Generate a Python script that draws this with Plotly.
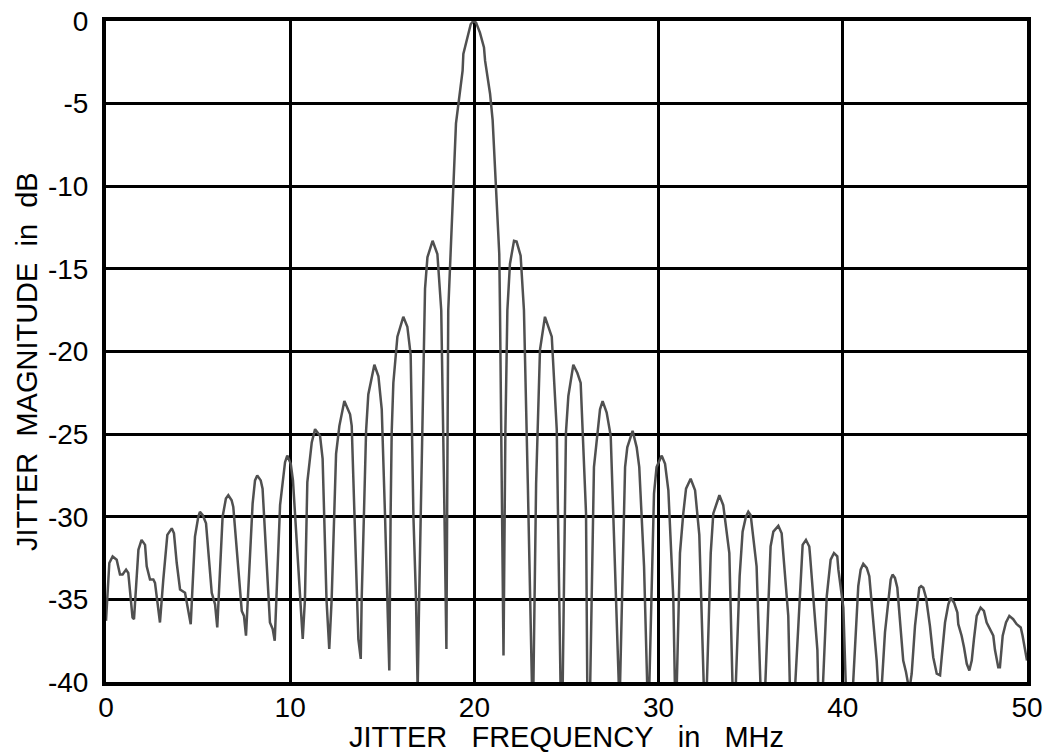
import plotly.graph_objects as go

# Jitter frequency (MHz) and magnitude (dB), read lobe by lobe from the reference
freq_mhz = [
    0.0, 0.18, 0.36, 0.58, 0.76, 0.9, 1.09, 1.21, 1.44, 1.52,
    1.76, 1.93, 2.12, 2.21, 2.39, 2.57, 2.66, 2.93,
    3.11, 3.33, 3.57, 3.69, 3.84, 4.02, 4.29, 4.6,
    4.83, 5.01, 5.1, 5.25, 5.43, 5.74, 5.92, 6.04,
    6.33, 6.51, 6.64, 6.82, 6.91, 7.37, 7.49, 7.6,
    7.96, 8.09, 8.21, 8.4, 8.5, 8.9, 9.05, 9.16,
    9.45, 9.59, 9.72, 9.84, 10.03, 10.15, 10.53, 10.68,
    10.8, 10.93, 11.17, 11.35, 11.62, 11.76, 11.97, 12.12,
    12.25, 12.49, 12.67, 12.94, 13.25, 13.34, 13.52, 13.7, 13.83,
    13.88, 14.0, 14.12, 14.24, 14.57, 14.79, 14.97, 15.15, 15.27, 15.38,
    15.45, 15.51, 15.6, 15.74, 15.82, 16.14, 16.36, 16.54, 16.69, 16.83, 16.92,
    17.0, 17.15, 17.32, 17.45, 17.73, 17.99, 18.2, 18.35, 18.48,
    18.58, 19.0, 19.36, 19.4, 19.8, 19.94, 20.09, 20.3, 20.52, 20.58, 20.85, 20.99, 21.35, 21.39, 21.58,
    21.68, 21.79, 21.93, 22.15, 22.29, 22.51, 22.69, 22.9, 23.13,
    23.2, 23.35, 23.56, 23.83, 24.2, 24.25, 24.47, 24.68,
    24.79, 24.97, 25.1, 25.37, 25.59, 25.77, 25.82, 26.06, 26.13,
    26.28, 26.49, 26.73, 26.82, 26.96, 27.18, 27.4, 27.58, 27.85,
    27.9, 28.18, 28.3, 28.59, 28.81, 28.95, 29.21, 29.39,
    29.49, 29.75, 29.89, 30.17, 30.35, 30.53, 30.8, 30.89,
    30.98, 31.16, 31.34, 31.49, 31.74, 31.98, 32.21, 32.46,
    32.61, 32.83, 32.97, 33.3, 33.51, 33.84, 34.02,
    34.18, 34.4, 34.56, 34.74, 34.87, 35.0, 35.32, 35.54,
    35.78, 36.08, 36.23, 36.5, 36.68, 37.04, 37.13,
    37.4, 37.77, 37.82, 38.0, 38.18, 38.22, 38.62, 38.67,
    38.91, 39.13, 39.34, 39.52, 39.7, 39.76, 40.03, 40.17,
    40.54, 40.84, 40.97, 41.11, 41.3, 41.44, 41.8, 41.84, 41.93,
    42.1, 42.29, 42.52, 42.6, 42.7, 42.83, 42.96, 43.28, 43.43, 43.61,
    43.74, 43.92, 44.15, 44.25, 44.37, 44.52, 44.73, 44.91, 45.1, 45.28,
    45.37, 45.55, 45.73, 45.86, 46.04, 46.22, 46.27, 46.45, 46.58, 46.73, 46.87,
    47.0, 47.12, 47.27, 47.48, 47.66, 47.81, 47.95, 48.17, 48.26, 48.44, 48.53,
    48.68, 48.86, 49.04, 49.25, 49.44, 49.66, 49.76, 50.0,
]

magnitude_db = [
    -36.3, -32.8, -32.4, -32.6, -33.5, -33.5, -33.2, -33.4, -36.1, -36.2,
    -32.0, -31.4, -31.7, -33.0, -33.8, -33.8, -34.0, -36.4,
    -33.8, -31.1, -30.7, -31.0, -32.8, -34.4, -34.6, -36.5,
    -31.2, -30.0, -29.7, -29.9, -30.4, -34.6, -35.3, -36.7,
    -30.0, -28.9, -28.7, -29.0, -29.4, -35.7, -36.0, -37.2,
    -29.2, -27.8, -27.5, -27.8, -28.3, -36.4, -36.8, -37.5,
    -29.3, -27.9, -26.7, -26.3, -26.8, -27.8, -35.0, -37.4,
    -35.0, -27.9, -25.5, -24.7, -25.1, -26.5, -35.0, -38.0,
    -35.0, -26.2, -24.5, -23.0, -23.8, -24.5, -31.0, -37.4, -38.6,
    -35.0, -30.0, -24.8, -22.6, -20.8, -21.5, -23.5, -30.0, -35.0, -39.3,
    -30.0, -24.9, -21.9, -19.9, -19.1, -17.9, -18.5, -20.2, -30.0, -35.0, -40.5,
    -35.0, -25.0, -16.2, -14.3, -13.3, -14.1, -17.5, -28.0, -38.0,
    -17.5, -6.2, -3.0, -2.0, -0.2, 0.0, -0.1, -0.7, -1.6, -2.4, -4.4, -6.0, -14.1, -17.5, -38.4,
    -25.0, -17.5, -14.7, -13.3, -13.35, -14.2, -17.5, -28.0, -40.5,
    -40.5, -28.0, -19.9, -17.9, -19.1, -20.3, -24.7, -40.5,
    -40.5, -24.9, -22.7, -20.8, -21.3, -21.9, -23.1, -29.8, -40.5,
    -40.5, -27.0, -24.1, -23.5, -23.0, -23.7, -25.1, -31.2, -40.5,
    -40.5, -27.0, -25.8, -24.8, -25.8, -27.0, -33.0, -40.5,
    -40.5, -28.6, -27.0, -26.3, -26.8, -28.4, -35.0, -40.5,
    -40.5, -32.2, -29.8, -28.3, -27.7, -28.4, -31.1, -40.5,
    -40.5, -32.2, -29.8, -28.7, -29.3, -32.2, -40.5,
    -40.5, -33.6, -30.9, -30.0, -29.7, -29.9, -33.0, -40.5,
    -40.5, -31.8, -30.9, -30.55, -31.0, -36.0, -40.5,
    -40.5, -32.1, -31.7, -31.4, -31.8, -32.3, -38.05, -40.5,
    -40.5, -34.8, -32.6, -32.2, -32.4, -33.2, -35.5, -40.5,
    -40.5, -34.2, -33.2, -32.85, -33.1, -33.6, -38.05, -38.7, -40.5,
    -40.5, -37.0, -34.7, -33.8, -33.5, -33.7, -34.3, -38.7, -39.4, -40.5,
    -39.5, -36.6, -34.3, -34.2, -34.3, -34.9, -36.6, -38.5, -39.5, -39.6,
    -38.5, -36.4, -35.3, -34.9, -35.2, -35.8, -36.5, -37.2, -37.9, -38.9, -39.3,
    -38.7, -37.4, -36.0, -35.5, -35.7, -36.4, -36.7, -37.2, -38.05, -39.1, -39.1,
    -37.2, -36.4, -36.0, -36.2, -36.5, -36.7, -37.2, -38.7,
]

x_ticks = [0, 10, 20, 30, 40, 50]
y_ticks = [0, -5, -10, -15, -20, -25, -30, -35, -40]

x_title = "JITTER\u00a0\u00a0 FREQUENCY\u00a0\u00a0 in\u00a0\u00a0 MHz"
y_title = "JITTER\u00a0 MAGNITUDE\u00a0 in\u00a0 dB"

n = min(len(freq_mhz), len(magnitude_db))

fig = go.Figure()
fig.add_trace(go.Scatter(
    x=freq_mhz[:n], y=magnitude_db[:n], mode="lines",
    line=dict(color="#505050", width=2.5),
    hoverinfo="skip", showlegend=False,
))

font_family = "Liberation Sans, Arial, sans-serif"

fig.update_layout(
    width=1047, height=756,
    margin=dict(l=106, r=20, t=21, b=74, autoexpand=False),
    paper_bgcolor="white", plot_bgcolor="white",
    font=dict(family=font_family, size=28, color="black"),
    xaxis=dict(
        range=[0, 50], tickvals=x_ticks, ticktext=[str(v) for v in x_ticks],
        showgrid=True, gridcolor="black", gridwidth=2.5,
        showline=True, linecolor="black", linewidth=4, mirror=True,
        ticks="", ticklabelstandoff=-3, automargin=False, zeroline=False,
    ),
    yaxis=dict(
        range=[-40, 0], tickvals=y_ticks, ticktext=[str(v) for v in y_ticks],
        showgrid=True, gridcolor="black", gridwidth=2.5,
        showline=True, linecolor="black", linewidth=4, mirror=True,
        ticks="outside", ticklen=8, tickcolor="rgba(0,0,0,0)",
        automargin=False, zeroline=False,
    ),
    annotations=[
        dict(text=x_title, xref="paper", yref="paper", x=0.5, y=-0.0832,
             xanchor="center", yanchor="middle", showarrow=False,
             font=dict(size=29, family=font_family, color="black")),
        dict(text=y_title, xref="paper", yref="paper", x=-0.0858, y=0.4856,
             xanchor="center", yanchor="middle", showarrow=False, textangle=-90,
             font=dict(size=29, family=font_family, color="black")),
    ],
)

fig.write_html("out.html")
